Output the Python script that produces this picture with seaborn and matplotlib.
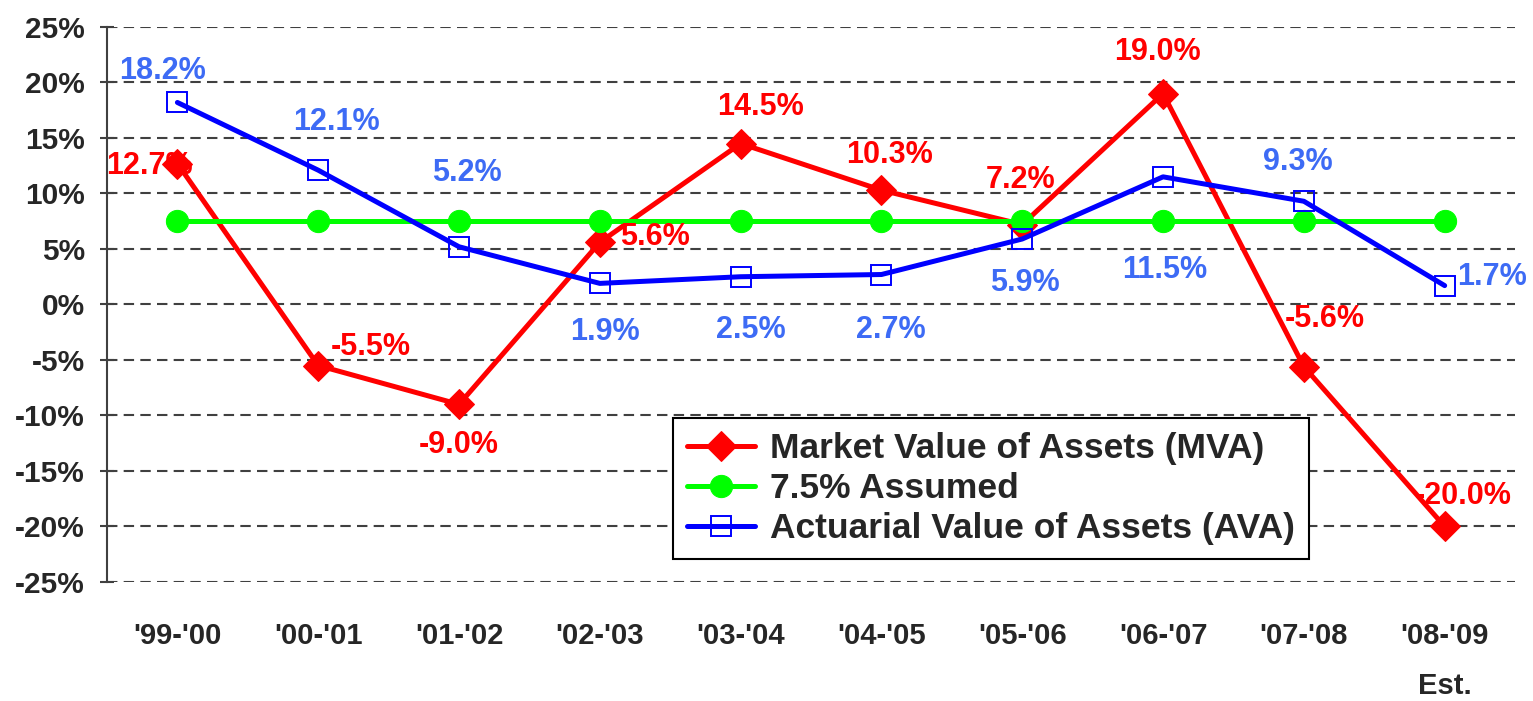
"""
Rendimiento de activos: MVA vs AVA vs supuesto 7.5%
"""

import numpy as np
import pandas as pd
import matplotlib
matplotlib.use("Agg")
import matplotlib.pyplot as plt
import seaborn as sns

# Datos
periodos = ["'99-'00", "'00-'01", "'01-'02", "'02-'03", "'03-'04",
            "'04-'05", "'05-'06", "'06-'07", "'07-'08", "'08-'09\nEst."]
mva = [12.7, -5.5, -9.0, 5.6, 14.5, 10.3, 7.2, 19.0, -5.6, -20.0]
supuesto = [7.5] * 10
ava = [18.2, 12.1, 5.2, 1.9, 2.5, 2.7, 5.9, 11.5, 9.3, 1.7]

# desplazamientos de etiquetas (puntos)
off_mva = [(-20, -2), (38, 13), (0, -29), (40, 4), (14, 26),
           (6, 25), (-1, 32), (-4, 30), (15, 34), (13, 22)]
off_ava = [(-11, 23), (13, 35), (6, 53), (4, -35), (7, -38),
           (7, -40), (2, -32), (1, -67), (-4, 28), (34, 6)]

sns.set_style("white")
plt.rcParams['font.family'] = ['Liberation Sans', 'DejaVu Sans']
plt.rcParams['font.weight'] = 'bold'

df = pd.DataFrame({'x': np.arange(len(periodos)), 'mva': mva,
                   'sup': supuesto, 'ava': ava})

fig = plt.figure(figsize=(15.33, 7.01), dpi=100)
ax = fig.add_axes([0.0698, 0.1698, 0.9185, 0.7917])

sns.lineplot(data=df, x='x', y='mva', ax=ax, color='#FF0000', lw=3.6,
             marker='D', markersize=15, markeredgecolor='#FF0000',
             label='Market Value of Assets (MVA)', zorder=3)
sns.lineplot(data=df, x='x', y='sup', ax=ax, color='#00FF00', lw=3.6,
             marker='o', markersize=16, markeredgecolor='#00FF00',
             label='7.5% Assumed', zorder=4)
sns.lineplot(data=df, x='x', y='ava', ax=ax, color='#0000FF', lw=3.6,
             marker='s', markersize=14, markerfacecolor='none',
             markeredgecolor='#0000FF', markeredgewidth=1.4,
             label='Actuarial Value of Assets (AVA)', zorder=5)

for i, v in enumerate(mva):
    ax.annotate(f'{v:.1f}%', (i, v), xytext=off_mva[i], textcoords='offset points',
                ha='center', va='center', color='#FF0000', fontsize=22,
                fontweight='bold', zorder=6)
for i, v in enumerate(ava):
    ax.annotate(f'{v:.1f}%', (i, v), xytext=off_ava[i], textcoords='offset points',
                ha='center', va='center', color='#3D6BF5', fontsize=22,
                fontweight='bold', zorder=6)

ax.set_xlim(-0.5, len(periodos) - 0.5)
ax.set_ylim(-25, 25)
ax.set_yticks(np.arange(-25, 26, 5))
ax.set_yticklabels([f'{t}%' for t in range(-25, 26, 5)], fontsize=21.5,
                   fontweight='bold')
ax.set_xticks(df['x'])
ax.set_xticklabels(periodos, linespacing=2.0, fontsize=21, fontweight='bold')
ax.set_xlabel('')
ax.set_ylabel('')

ax.yaxis.grid(True, color='#404040', lw=1.5, linestyle=(0, (5, 3)))
ax.xaxis.grid(False)
for s in ['top', 'right', 'bottom']:
    ax.spines[s].set_visible(False)
ax.spines['left'].set_color('#404040')
ax.spines['left'].set_linewidth(1.5)
ax.tick_params(axis='y', direction='inout', length=10, width=1.5,
               color='#404040', pad=11, left=True)
ax.tick_params(axis='x', length=0, pad=29)

leg = ax.legend(loc='upper left', bbox_to_anchor=(0.402, 0.2955),
                borderaxespad=0, prop={'size': 25.5, 'weight': 'bold'},
                frameon=True, fancybox=False,
                edgecolor='black', framealpha=1, handlelength=1.9,
                handletextpad=0.45, labelspacing=0.2, borderpad=0.4)
leg.get_frame().set_linewidth(1.5)

fig.savefig('out.png', dpi=100)
plt.close(fig)
